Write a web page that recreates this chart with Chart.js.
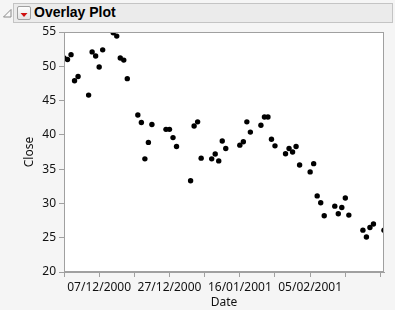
<!DOCTYPE html>
<html>
<head>
<meta charset="utf-8">
<script src="https://cdn.jsdelivr.net/npm/chart.js@4.4.1/dist/chart.umd.min.js"></script>
<style>
  html, body { margin: 0; padding: 0; }
  body { width: 395px; height: 310px; overflow: hidden; background: #f5f5f5; position: relative; }
  #chartBox { position: absolute; left: 0; top: 0; width: 395px; height: 310px; }
  .bar { position: absolute; left: 13px; top: 3px; width: 378px; height: 18px; background: #ebebeb; border: 1px solid #c4c4c4; }
  .title { position: absolute; left: 34px; top: 4px; font: bold 14px "Liberation Sans", Arial, sans-serif; color: #000; line-height: 17px; }
  .btn { position: absolute; left: 17px; top: 6px; width: 12px; height: 12px; border: 1px solid #a0a0a0; border-radius: 2px; background: linear-gradient(#fdfdfd, #e4e4e4); }
  .tri { position: absolute; left: 3px; top: 9px; }
</style>
</head>
<body>
<div id="chartBox"><canvas id="overlayChart"></canvas></div>
<svg class="tri" width="9" height="9"><polygon points="8,0.5 8,8 0.5,8" fill="#fafafa" stroke="#8a8a8a" stroke-width="1"/></svg>
<div class="bar"></div>
<div class="btn"><svg width="12" height="12"><polygon points="2.5,4 9.5,4 6,8" fill="#d01010"/></svg></div>
<div class="title">Overlay Plot</div>
<script>
// Close prices by trading day
const startDate = "2000-11-27";
const endDate = "2001-02-26";
const dates = [
  "2000-11-27", "2000-11-28", "2000-11-29", "2000-11-30", "2000-12-01",
  "2000-12-04", "2000-12-05", "2000-12-06", "2000-12-07", "2000-12-08",
  "2000-12-11", "2000-12-12", "2000-12-13", "2000-12-14", "2000-12-15",
  "2000-12-18", "2000-12-19", "2000-12-20", "2000-12-21", "2000-12-22",
  "2000-12-26", "2000-12-27", "2000-12-28", "2000-12-29",
  "2001-01-02", "2001-01-03", "2001-01-04", "2001-01-05",
  "2001-01-08", "2001-01-09", "2001-01-10", "2001-01-11", "2001-01-12",
  "2001-01-16", "2001-01-17", "2001-01-18", "2001-01-19",
  "2001-01-22", "2001-01-23", "2001-01-24", "2001-01-25", "2001-01-26",
  "2001-01-29", "2001-01-30", "2001-01-31", "2001-02-01", "2001-02-02",
  "2001-02-05", "2001-02-06", "2001-02-07", "2001-02-08", "2001-02-09",
  "2001-02-12", "2001-02-13", "2001-02-14", "2001-02-15", "2001-02-16",
  "2001-02-20", "2001-02-21", "2001-02-22", "2001-02-23",
  "2001-02-26",
];
const closes = [
  51.2, 51.0, 51.7, 47.9, 48.5,
  45.8, 52.1, 51.5, 49.9, 52.4,
  54.9, 54.4, 51.2, 50.9, 48.2,
  42.9, 41.8, 36.5, 38.9, 41.5,
  40.8, 40.8, 39.6, 38.3,
  33.3, 41.3, 41.9, 36.6,
  36.5, 37.2, 36.2, 39.1, 38.0,
  38.5, 39.0, 41.9, 40.4,
  41.4, 42.6, 42.6, 39.35, 38.4,
  37.25, 38.0, 37.5, 38.3, 35.6,
  34.6, 35.8, 31.1, 30.1, 28.2,
  29.6, 28.5, 29.4, 30.8, 28.3,
  26.1, 25.1, 26.5, 27.0,
  26.1,
];
const xTickDates = [
  "2000-11-27", "2000-12-07", "2000-12-17", "2000-12-27", "2001-01-06",
  "2001-01-16", "2001-01-26", "2001-02-05", "2001-02-15", "2001-02-25",
];
const xLabelDates = ["2000-12-07", "2000-12-27", "2001-01-16", "2001-02-05"];
const yTicks = [20, 25, 30, 35, 40, 45, 50, 55];

const DAY = 86400000;
const dayOf = (d) => (Date.parse(d) - Date.parse(startDate)) / DAY;
const fmtDay = (n) => {
  const d = new Date(Date.parse(startDate) + n * DAY);
  const p = (v) => String(v).padStart(2, "0");
  return p(d.getUTCDate()) + "/" + p(d.getUTCMonth() + 1) + "/" + d.getUTCFullYear();
};
const labelDays = xLabelDates.map(dayOf);

// white plot area + frame
const plotFrame = {
  id: "plotFrame",
  beforeDatasetsDraw(chart) {
    const { ctx, chartArea: a } = chart;
    ctx.save();
    ctx.fillStyle = "#ffffff";
    ctx.fillRect(a.left, a.top, a.right - a.left, a.bottom - a.top);
    ctx.restore();
  },
  afterDatasetsDraw(chart) {
    const { ctx, chartArea: a } = chart;
    ctx.save();
    ctx.strokeStyle = "#a0a0a0";
    ctx.lineWidth = 1;
    ctx.strokeRect(Math.round(a.left) + 0.5, Math.round(a.top) + 0.5,
      Math.round(a.right - a.left) - 1, Math.round(a.bottom - a.top) - 1);
    ctx.restore();
  },
};

const tickFont = { family: "'Noto Sans', sans-serif", size: 12 };

const ctx = document.getElementById("overlayChart").getContext("2d");
const overlayChart = new Chart(ctx, {
  type: "scatter",
  data: {
    datasets: [
      {
        label: "Close",
        data: dates.map((d, i) => ({ x: dayOf(d), y: closes[i] })),
        backgroundColor: "#000000",
        borderColor: "#000000",
        pointRadius: 2.7,
        pointHoverRadius: 2.7,
        borderWidth: 0,
        clip: 0,
      },
    ],
  },
  options: {
    responsive: true,
    maintainAspectRatio: false,
    animation: false,
    layout: { padding: { left: 0, right: 11, top: 32, bottom: 0 } },
    plugins: {
      legend: { display: false },
      tooltip: { enabled: false },
    },
    scales: {
      x: {
        type: "linear",
        min: 0,
        max: dayOf(endDate),
        afterBuildTicks: (scale) => {
          scale.ticks = xTickDates.map((d) => ({ value: dayOf(d) }));
        },
        afterFit: (scale) => { scale.height = 38; },
        grid: { drawOnChartArea: false, drawTicks: true, tickLength: 5, color: "#a0a0a0" },
        border: { display: true, color: "#a0a0a0" },
        ticks: {
          autoSkip: false,
          maxRotation: 0,
          padding: 3,
          color: "#111111",
          font: tickFont,
          callback: (v) => (labelDays.includes(v) ? fmtDay(v) : ""),
        },
        title: {
          display: true,
          text: "Date",
          color: "#111111",
          font: tickFont,
          padding: { top: 0, bottom: 0 },
        },
      },
      y: {
        min: 20,
        max: 55,
        afterBuildTicks: (scale) => {
          scale.ticks = yTicks.map((v) => ({ value: v }));
        },
        afterFit: (scale) => { scale.width = 64; },
        grid: { drawOnChartArea: false, drawTicks: true, tickLength: 5, color: "#a0a0a0" },
        border: { display: true, color: "#a0a0a0" },
        ticks: { padding: 3, color: "#111111", font: tickFont },
        title: {
          display: true,
          text: "Close",
          color: "#111111",
          font: tickFont,
          padding: { top: 22, bottom: 0 },
        },
      },
    },
  },
  plugins: [plotFrame],
});
</script>
</body>
</html>
